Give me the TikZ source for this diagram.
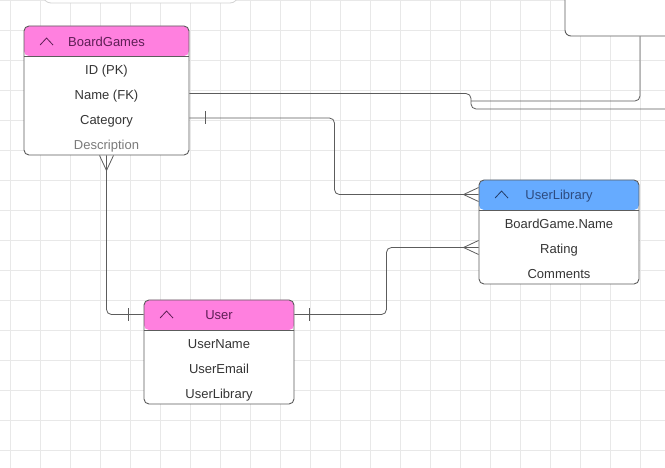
\documentclass[tikz,border=0pt]{standalone}
\usepackage{fontspec}
\setmainfont{Liberation Sans}
\usetikzlibrary{calc,positioning}
\definecolor{gridgray}{HTML}{E8E8E8}
\definecolor{linegray}{HTML}{5C5C5C}
\definecolor{pinkhead}{HTML}{FF80DF}
\definecolor{bluehead}{HTML}{66ABFF}
\definecolor{pinktext}{HTML}{5E1E55}
\definecolor{bluetext}{HTML}{2E4C80}
\definecolor{rowtext}{HTML}{353535}
\definecolor{fadetext}{HTML}{7A7A7A}

\tikzset{
  gridline/.style={gridgray, line width=0.6pt},
  conn/.style={linegray, line width=0.8pt, rounded corners=5pt},
  entity/.style 2 args={draw=linegray, line width=0.9pt, fill=white,
    rounded corners=5pt, minimum width=#1, minimum height=#2, inner sep=0pt},
  head/.style={path picture={
      \fill[#1] (path picture bounding box.north west)
        rectangle ([yshift=-30pt]path picture bounding box.north east);
      \draw[linegray, line width=0.9pt]
        ([yshift=-30pt]path picture bounding box.north west)
        -- ([yshift=-30pt]path picture bounding box.north east);}},
  rowtxt/.style={text=rowtext, font=\fontsize{13}{15}\selectfont, inner sep=0pt,
    text height=9.3pt, text depth=0pt},
  titletxt/.style={font=\fontsize{13}{15}\selectfont, inner sep=0pt,
    text height=9.3pt, text depth=0pt},
  caret/.pic={\draw[line width=0.8pt] (-6.5,3.5) -- (0,-3.5) -- (6.5,3.5);},
  crow/.pic={\draw[conn] (-15,0) -- (0,-7) (-15,0) -- (0,7);},
  one/.pic={\draw[conn] (0,-6.5) -- (0,6.5);}
}

\begin{document}
\begin{tikzpicture}[x=1pt, y=-1pt]
  \clip (0,0) rectangle (665,468);
  \fill[white] (0,0) rectangle (665,468);
  \foreach \x in {10,40,...,640} \draw[gridline] (\x,0) -- (\x,468);
  \foreach \y in {0,30,...,450} \draw[gridline] (0,\y) -- (665,\y);

  % boxes cut off at the top
  \node[draw=gridgray!80!gray, line width=0.8pt, fill=white, rounded corners=8pt,
    minimum width=195pt, minimum height=46pt] (fbox) at (140.5,-20) {};
  \node[draw=linegray, line width=0.9pt, fill=white, rounded corners=6pt,
    minimum width=150pt, minimum height=72pt] (tbox) at (640,0) {};

  % entities
  \node[entity={165pt}{129pt}, head=pinkhead] (bg) at (106.5,90.5) {};
  \node[entity={160pt}{104pt}, head=bluehead] (ul) at (559,232) {};
  \node[entity={150pt}{104pt}, head=pinkhead] (us) at (219,352) {};

  \node[titletxt, text=pinktext] (bg-t) at ($(bg.north)+(0,16)$) {BoardGames};
  \node[titletxt, text=bluetext] (ul-t) at ($(ul.north)+(0,15)$) {UserLibrary};
  \node[titletxt, text=pinktext] (us-t) at ($(us.north)+(0,15)$) {User};
  \pic[pinktext] at ($(bg.north west)+(23,16)$) {caret};
  \pic[bluetext!80!black] at ($(ul.north west)+(23,15)$) {caret};
  \pic[pinktext] at ($(us.north west)+(23,15)$) {caret};

  \foreach \t [count=\i] in {ID (PK), Name (FK), Category}
    \node[rowtxt] (bg-\i) at ($(bg.north)+(0,20+24.7*\i)$) {\t};
  \node[rowtxt, text=fadetext] (bg-4) at ($(bg.north)+(0,119)$) {Description};
  \foreach \t [count=\i] in {BoardGame.Name, Rating, Comments}
    \node[rowtxt] (ul-\i) at ($(ul.north)+(0,20+24.7*\i)$) {\t};
  \foreach \t [count=\i] in {UserName, UserEmail, UserLibrary}
    \node[rowtxt] (us-\i) at ($(us.north)+(0,20+24.7*\i)$) {\t};

  % connectors
  \coordinate (jn) at (471,101);
  \coordinate (off) at (670,109);
  \draw[conn] (bg.east |- 0,93.5) -- (jn |- 0,93.5) -- (jn |- off) -- (off);
  \draw[conn] (jn) -- (tbox.south |- jn) -- (tbox.south);
  \draw[conn] (bg.east |- 0,118) -- ++(145,0) |- (ul.west |- ul-t);
  \draw[conn] (bg.south) |- (us.west |- us-t);
  \draw[conn] (us.east |- us-t) -- ++(92,0) |- (ul.west |- 0,247.5);

  % ends
  \pic at (205,118) {one};
  \pic at ($(us.west |- us-t)+(-15,0)$) {one};
  \pic at ($(us.east |- us-t)+(15,0)$) {one};
  \pic at (ul.west |- ul-t) {crow};
  \pic at (ul.west |- 0,247.5) {crow};
  \pic[rotate=90] at (bg.south) {crow};
\end{tikzpicture}
\end{document}
